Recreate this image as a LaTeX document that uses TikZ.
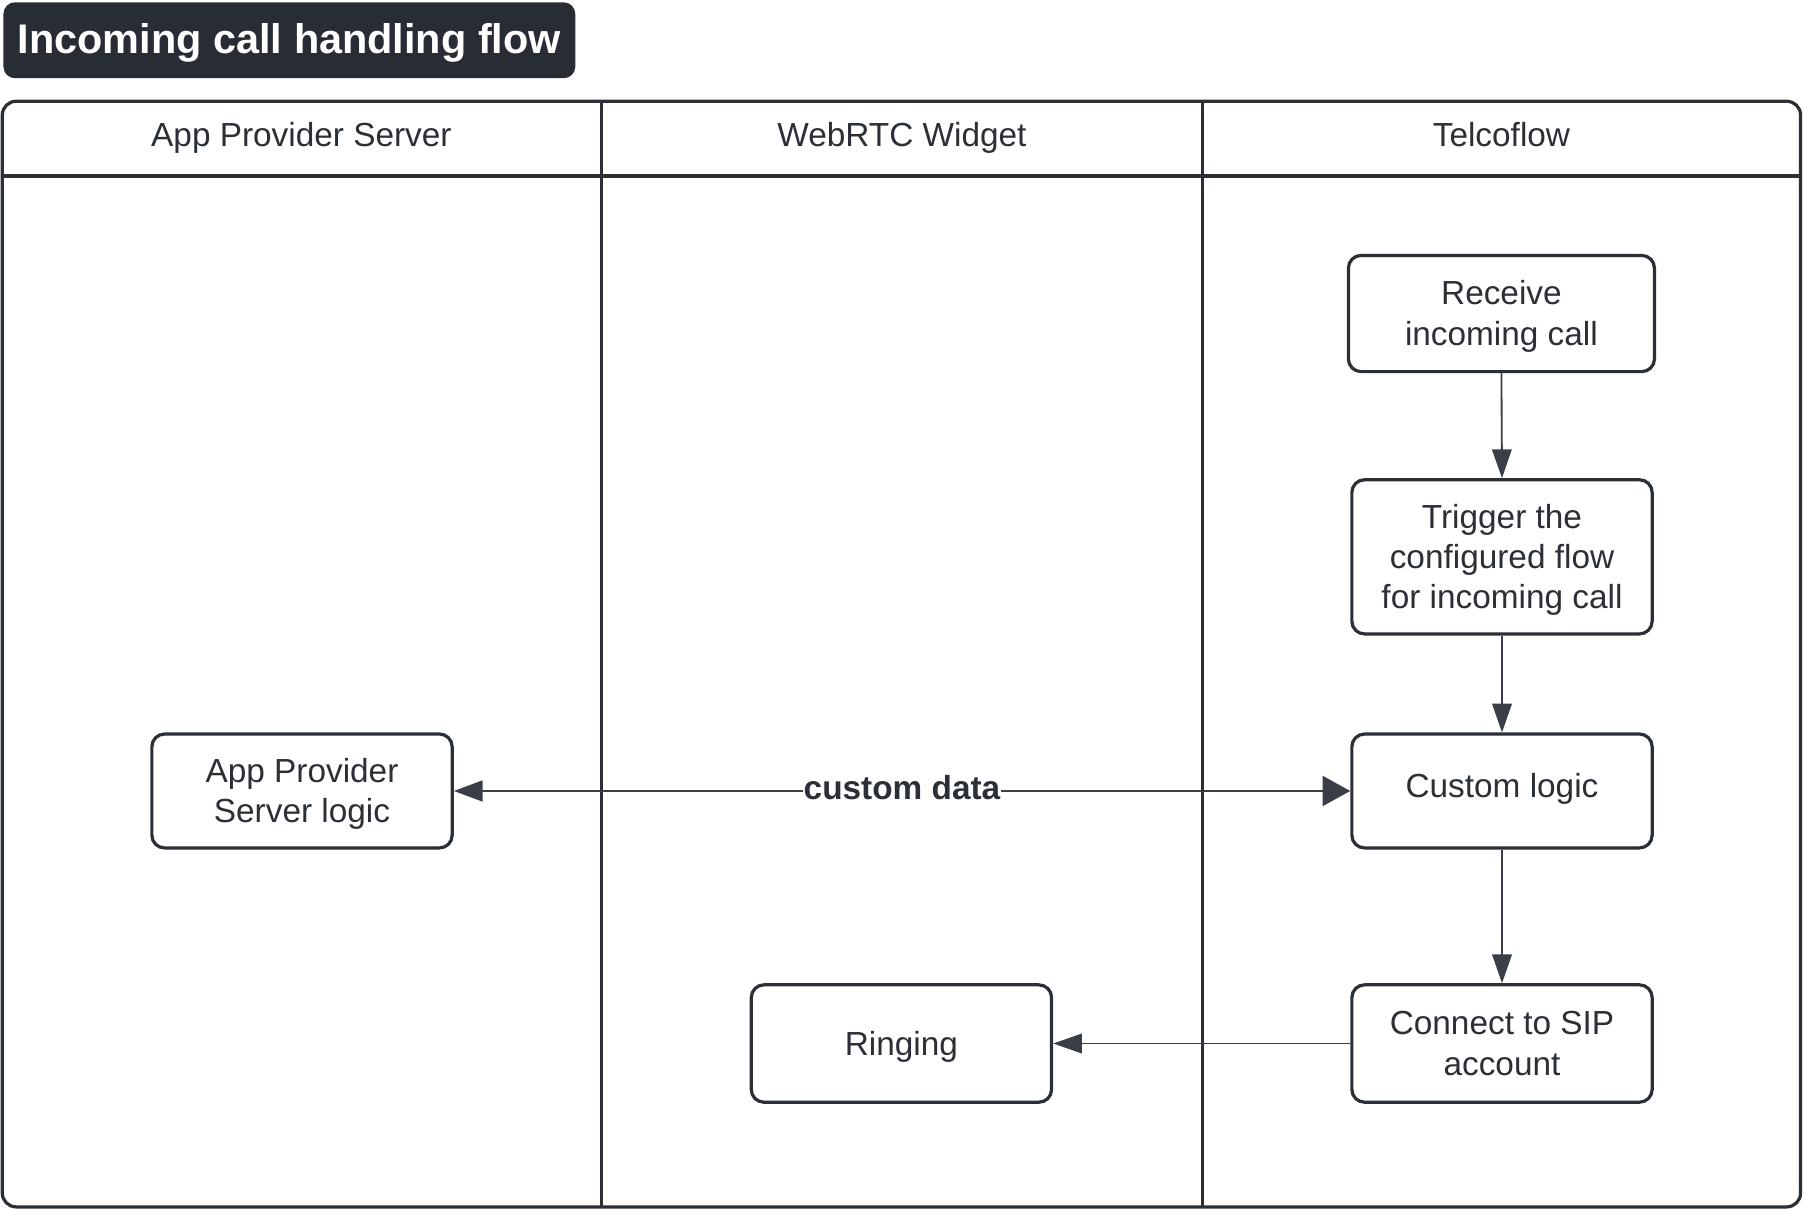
\documentclass[tikz,border=0pt]{standalone}
\usepackage{fontspec}
\setmainfont{Liberation Sans}
\usetikzlibrary{arrows.meta}
\definecolor{ink}{HTML}{2B2F36}
\definecolor{titlebg}{HTML}{282C34}
\definecolor{arrowc}{HTML}{3A3F47}
\newcommand{\sst}{\rule[-6.1pt]{0pt}{32.2pt}}
\tikzset{
  every node/.style={font=\fontsize{29}{35}\selectfont, text=ink},
  box/.style={draw=ink, line width=2.8pt, rounded corners=11pt, fill=white,
    minimum width=261pt, minimum height=100pt, align=center, inner sep=0pt},
  lanehead/.style={anchor=center},
  pool/.style={draw=ink, line width=2.8pt},
  flow/.style={draw=arrowc, line width=1.6pt, -{Triangle[length=25pt,width=17pt]}},
  lbl/.style={fill=white, inner sep=1pt, text height=21pt, text depth=7pt,
    font=\bfseries\fontsize{29}{35}\selectfont},
}
\begin{document}
\begin{tikzpicture}[x=1pt,y=-1pt]
\useasboundingbox (0,0) rectangle (1568,1051);
% title
\node[fill=titlebg, rounded corners=10pt, minimum width=497pt, minimum height=66pt,
  inner sep=0pt, text=white, text height=30pt, text depth=7.6pt,
  font=\bfseries\fontsize{36}{40}\selectfont] (title) at (251.5,35) {Incoming call handling flow};
% pool
\draw[pool, rounded corners=12pt] (2,88) rectangle (1565,1049);
\draw[pool] (2,153) -- (1565,153);
\draw[pool] (523,88) -- (523,1049);
\draw[pool] (1045,88) -- (1045,1049);
\node[lanehead] (h1) at (262,117) {\sst App Provider Server};
\node[lanehead] (h2) at (784,117) {\sst WebRTC Widget};
\node[lanehead] (h3) at (1305,117) {\sst Telcoflow};
% boxes
\node[box, minimum width=266pt, minimum height=101pt] (recv) at (1305,272.5) {\sst Receive\\\sst incoming call};
\node[box, minimum height=134pt] (trig) at (1305.5,484) {\sst Trigger the\\\sst configured flow\\\sst for incoming call};
\node[box, minimum height=99pt, text height=21pt, text depth=10pt] (cust) at (1305.5,687.5) {Custom logic};
\node[box, minimum height=102pt] (conn) at (1305.5,907) {\sst Connect to SIP\\\sst account};
\node[box, minimum height=99pt] (app) at (262.5,687.5) {\sst App Provider\\\sst Server logic};
\node[box, minimum height=102pt] (ring) at (783.5,907) {\sst Ringing};
% connectors
\draw[flow] (recv.south) -- (trig.north);
\draw[flow] (trig.south) -- (cust.north);
\draw[flow] (cust.south) -- (conn.north);
\draw[draw=arrowc, line width=2pt, {Triangle[length=25pt,width=18pt]}-{Triangle[length=24pt,width=26pt]}]
  (app.east) -- node[lbl] (cd) {custom data} (cust.west);
\draw[flow] (conn.west) -- (ring.east);
\end{tikzpicture}
\end{document}
